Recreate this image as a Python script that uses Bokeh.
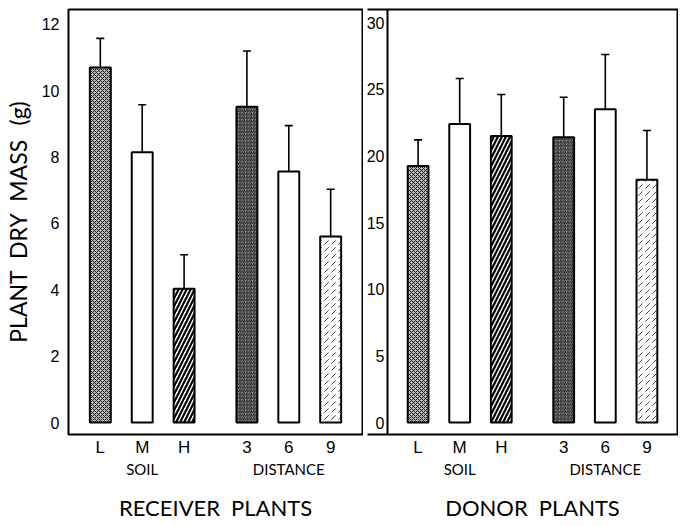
from bokeh.plotting import figure
from bokeh.models import (FactorRange, FixedTicker, Whisker, TeeHead, ColumnDataSource,
                          Range1d)
from bokeh.layouts import row
from bokeh.embed import file_html
from bokeh.resources import INLINE

# ---- data ----
groups = ["SOIL", "SOIL", "SOIL", "DISTANCE", "DISTANCE", "DISTANCE"]
levels = ["L", "M", "H", "3", "6", "9"]

receiver_mean = [10.7, 8.15, 4.03, 9.52, 7.57, 5.61]
receiver_upper = [11.58, 9.58, 5.06, 11.2, 8.95, 7.03]
receiver_lower = [9.85, 6.6, 3.0, 7.8, 6.15, 4.05]

donor_mean = [19.25, 22.4, 21.5, 21.4, 23.5, 18.2]
donor_upper = [21.2, 25.8, 24.6, 24.4, 27.6, 21.9]
donor_lower = [17.6, 17.2, 18.2, 18.3, 19.5, 14.4]

left_ticks = [0, 2, 4, 6, 8, 10, 12]
right_ticks = [0, 5, 10, 15, 20, 25, 30]

# ---- styles ----
fill_colors = ["#b4b4b4", "white", "white", "#a8a8a8", "white", "white"]
hatch_patterns = ["x", " ", "/", "/", " ", ","]
hatch_scales = [4, 6, 8, 3.5, 6, 7]
hatch_weights = [1, 1, 2.2, 1, 1, 1]
hatch_colors = ["#222222", "black", "black", "#111111", "black", "#444444"]

factors = list(zip(groups, levels))

TICK_FONT = "Liberation Sans"
LABEL_FONT = "Lato"


def make_panel(mean, upper, lower, yr, ticks, minor, title, frame_w, pad,
               bl, br, ylabel=None, standoff=9):
    src = ColumnDataSource(dict(x=factors, top=mean, upper=upper, lower=lower,
                                fc=fill_colors, hp=hatch_patterns, hs=hatch_scales,
                                hw=hatch_weights, hc=hatch_colors))
    xr = FactorRange(*factors, group_padding=0.5, range_padding=pad,
                     range_padding_units="absolute")
    p = figure(x_range=xr, y_range=yr, frame_width=frame_w, frame_height=425,
               min_border_left=bl, min_border_right=br, min_border_top=9,
               min_border_bottom=78, output_backend="svg", toolbar_location=None)
    p.vbar(x="x", top="top", bottom=0, width=0.5, source=src,
           fill_color="fc", hatch_pattern="hp", hatch_scale="hs",
           hatch_weight="hw", hatch_color="hc", line_color="black", line_width=2)
    w = Whisker(source=src, base="x", upper="upper", lower="lower",
                line_color="black", line_width=1.6,
                upper_head=TeeHead(size=8, line_width=1.6, line_color="black"),
                lower_head=TeeHead(size=8, line_width=1.6, line_color="black"))
    p.add_layout(w)
    p.grid.visible = False
    p.outline_line_color = "black"
    p.outline_line_width = 2
    p.outline_line_alpha = 1

    ya = p.yaxis[0]
    ya.ticker = FixedTicker(ticks=ticks, minor_ticks=minor)
    ya.axis_line_color = None
    ya.major_tick_line_color = None
    ya.major_tick_out = 0
    ya.major_tick_in = 0
    ya.major_label_standoff = standoff
    ya.major_label_text_font = TICK_FONT
    ya.major_label_text_font_size = "16px"
    ya.major_label_text_color = "black"
    if minor:
        ya.minor_tick_line_color = "black"
        ya.minor_tick_line_width = 2
        ya.minor_tick_out = 20
        ya.minor_tick_in = 0
    else:
        ya.minor_tick_line_color = None
    if ylabel:
        ya.axis_label = ylabel
        ya.axis_label_text_font = LABEL_FONT
        ya.axis_label_text_font_size = "23px"
        ya.axis_label_text_font_style = "normal"
        ya.axis_label_standoff = 7
        ya.axis_label_text_color = "black"

    xa = p.xaxis[0]
    xa.axis_line_color = None
    xa.major_tick_line_color = None
    xa.major_tick_out = 3
    xa.major_tick_in = 0
    xa.separator_line_color = None
    xa.major_label_standoff = 0
    xa.major_label_text_font = TICK_FONT
    xa.major_label_text_font_size = "17px"
    xa.major_label_text_color = "black"
    xa.group_text_font = LABEL_FONT
    xa.group_text_font_size = "15px"
    xa.group_text_color = "black"
    xa.group_text_font_style = "normal"
    xa.axis_label = title
    xa.axis_label_text_font = LABEL_FONT
    xa.axis_label_text_font_size = "22px"
    xa.axis_label_text_font_style = "normal"
    xa.axis_label_text_color = "black"
    xa.axis_label_standoff = 13
    return p


pA = make_panel(receiver_mean, receiver_upper, receiver_lower, Range1d(-0.36, 12.45),
                left_ticks, [], "RECEIVER\u2002PLANTS", 294, 0.26, 61, 1,
                ylabel="PLANT\u2002DRY\u2002MASS\u2002\u2009(g)", standoff=9)
pB = make_panel(donor_mean, donor_upper, donor_lower, Range1d(-0.9, 30.98),
                right_ticks, [-0.9, 30.98], "DONOR\u2002PLANTS", 290, 0.235, 19, 1,
                standoff=-17)

layout = row(pA, pB)
open("out.html", "w").write(file_html(layout, INLINE))
